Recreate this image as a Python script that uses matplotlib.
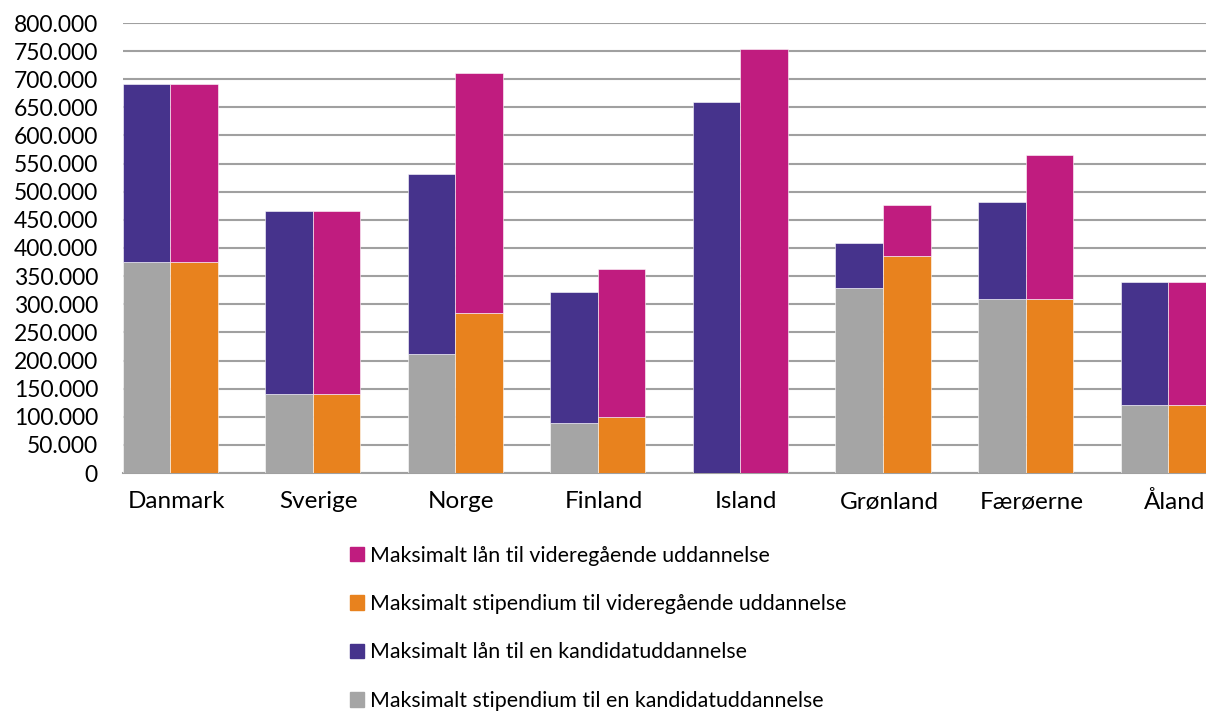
import numpy as np
import matplotlib.pyplot as plt
import matplotlib.transforms as mtransforms
from matplotlib.patches import Patch

plt.rcParams['font.family'] = ['Lato', 'DejaVu Sans']

# Data (in kr)
countries = ['Danmark', 'Sverige', 'Norge', 'Finland', 'Island', 'Grønland', 'Færøerne', 'Åland']
stip_kandidat = [375000, 140000, 212000, 89000, 0, 329000, 309000, 121000]
laan_kandidat_total = [692000, 465000, 532000, 322000, 660000, 409000, 482000, 339000]
stip_videre = [375000, 140000, 285000, 100000, 0, 386000, 309000, 121000]
laan_videre_total = [692000, 465000, 711000, 363000, 754000, 477000, 565000, 339000]

laan_kandidat = [t - s for t, s in zip(laan_kandidat_total, stip_kandidat)]
laan_videre = [t - s for t, s in zip(laan_videre_total, stip_videre)]

c_gray = '#A5A5A5'
c_purple = '#46338C'
c_orange = '#E8821E'
c_magenta = '#C01C7F'

fig = plt.figure(figsize=(12.06, 7.12), dpi=100)
ax = fig.add_axes([123 / 1206, 1 - 473 / 712, 1 - 123 / 1206, 450 / 712])

x = np.arange(len(countries))
w = 1 / 3
ax.bar(x - w / 2, stip_kandidat, w, color=c_gray, edgecolor='white', linewidth=0.4, zorder=3)
ax.bar(x - w / 2, laan_kandidat, w, bottom=stip_kandidat, color=c_purple, edgecolor='white', linewidth=0.4, zorder=3)
ax.bar(x + w / 2, stip_videre, w, color=c_orange, edgecolor='white', linewidth=0.4, zorder=3)
ax.bar(x + w / 2, laan_videre, w, bottom=stip_videre, color=c_magenta, edgecolor='white', linewidth=0.4, zorder=3)

ax.set_xlim(-0.33, 7.265)
ax.set_ylim(0, 800000)
yt = np.arange(0, 800001, 50000)
ax.set_yticks(yt)
ax.set_yticklabels(['0' if v == 0 else f'{v:,}'.replace(',', '.') for v in yt], fontsize=16.5)
ax.set_xticks(x)
ax.set_xticklabels(countries, fontsize=17.5)
ax.tick_params(axis='x', length=0, pad=13)
ax.tick_params(axis='y', length=0, pad=18)
# country labels sit slightly right of the bar pair in the original
shift = mtransforms.ScaledTranslation(6 / 100, 0, fig.dpi_scale_trans)
for lab in ax.get_xticklabels():
    lab.set_transform(lab.get_transform() + shift)
ax.yaxis.grid(True, color='#A0A0A0', linewidth=1.5, zorder=0)
for s in ['top', 'right', 'left']:
    ax.spines[s].set_visible(False)
ax.spines['bottom'].set_color('#A0A0A0')
ax.spines['bottom'].set_linewidth(1.5)

handles = [Patch(color=c_magenta), Patch(color=c_orange), Patch(color=c_purple), Patch(color=c_gray)]
labels = ['Maksimalt lån til videregående uddannelse',
          'Maksimalt stipendium til videregående uddannelse',
          'Maksimalt lån til en kandidatuddannelse',
          'Maksimalt stipendium til en kandidatuddannelse']
fig.legend(handles, labels, loc='upper left', bbox_to_anchor=(341 / 1206, 1 - 537 / 712),
           frameon=False, fontsize=15.4, handlelength=0.67, handleheight=0.67,
           handletextpad=0.3, labelspacing=1.33, borderaxespad=0)

fig.savefig('out.png', dpi=100)
